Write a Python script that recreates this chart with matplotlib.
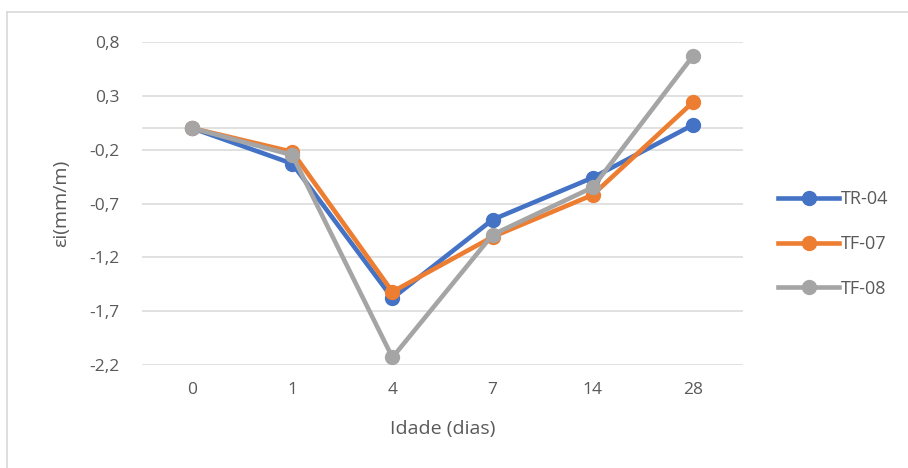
import matplotlib.pyplot as plt
from matplotlib.lines import Line2D
import numpy as np

plt.rcParams['font.family'] = ['Open Sans', 'DejaVu Sans']

idades = ["0", "1", "4", "7", "14", "28"]
tr04 = [0.0, -0.33, -1.58, -0.85, -0.46, 0.03]
tf07 = [0.0, -0.22, -1.52, -1.01, -0.62, 0.24]
tf08 = [0.0, -0.25, -2.13, -0.99, -0.55, 0.67]
yticks = [-2.2, -1.7, -1.2, -0.7, -0.2, 0.3, 0.8]

fig = plt.figure(figsize=(9.08, 4.68), dpi=100)
ax = fig.add_axes([142/908, 103/468, 601/908, 323/468])

x = np.arange(len(idades))
series = [("TR-04", tr04, "#4472C4"), ("TF-07", tf07, "#ED7D31"), ("TF-08", tf08, "#A5A5A5")]
for name, vals, c in series:
    ax.plot(x, vals, color=c, lw=3.3, marker='o', markersize=10, label=name, zorder=3)

ax.set_xlim(-0.5, len(idades) - 0.5)
ax.set_ylim(-2.2, 0.8)
ax.set_yticks(yticks)
ax.set_yticklabels([f"{v:.1f}".replace(".", ",") for v in yticks])
ax.set_xticks(x)
ax.set_xticklabels(idades)
ax.yaxis.grid(color='#D9D9D9', lw=1.1)
ax.axhline(0, color='#D9D9D9', lw=1.1, zorder=1)
ax.set_axisbelow(True)
for s in ax.spines.values():
    s.set_visible(False)
ax.tick_params(length=0, labelsize=12.5, colors='#595959', pad=16)
ax.tick_params(axis='x', pad=12)

ax.set_xlabel("Idade (dias)", fontsize=14, color='#595959', labelpad=16)
ax.set_ylabel("εi(mm/m)", fontsize=14, color='#595959', labelpad=14)

leg = ax.legend(loc='center left', bbox_to_anchor=(778/908, 224/468), bbox_transform=fig.transFigure,
                frameon=False, fontsize=13, handlelength=3.4, handletextpad=0.1,
                labelspacing=1.47, borderpad=0, borderaxespad=0)
for t in leg.get_texts():
    t.set_color('#595959')

fig.add_artist(Line2D([7/908, 7/908], [0, 456/468], color='#D9D9D9', lw=1.2, transform=fig.transFigure))
fig.add_artist(Line2D([7/908, 1], [456/468, 456/468], color='#D9D9D9', lw=1.2, transform=fig.transFigure))

fig.savefig("out.png", dpi=100)
